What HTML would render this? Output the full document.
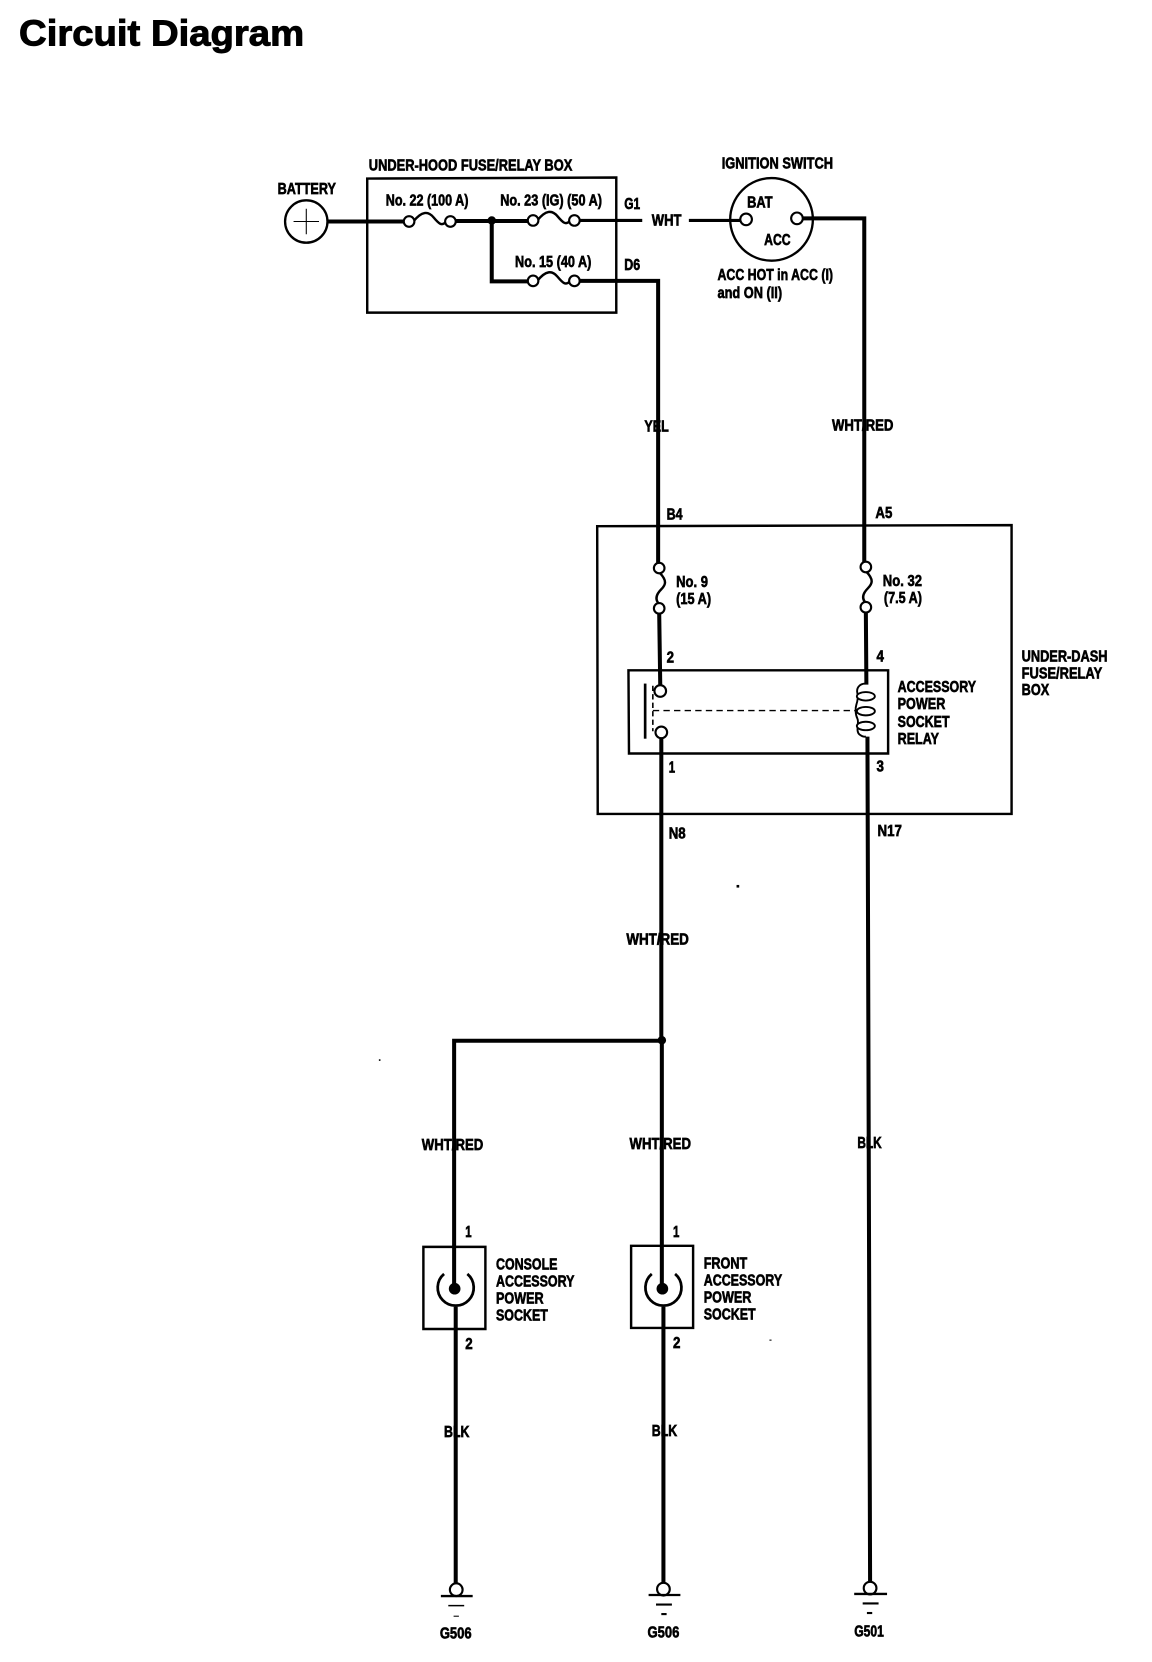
<!DOCTYPE html>
<html><head><meta charset="utf-8"><title>Circuit Diagram</title>
<style>
html,body{margin:0;padding:0;background:#fff;width:1152px;height:1662px;overflow:hidden}
svg{display:block}
text{font-family:"Liberation Sans",sans-serif;font-weight:bold;font-size:14.5px;fill:#000;stroke:#000;stroke-width:.6}
.w{fill:none;stroke:#000;stroke-width:3.8;stroke-linejoin:miter}
.t{fill:none;stroke:#000;stroke-width:2.3}
.c{fill:#fff;stroke:#000;stroke-width:2}
</style></head><body>
<svg xmlns="http://www.w3.org/2000/svg" width="1152" height="1662" viewBox="0 0 1087 1568.2">
<text x="18" y="43" textLength="269" lengthAdjust="spacingAndGlyphs" style="font-size:34px;stroke-width:.9">Circuit Diagram</text>

<!-- boxes -->
<path class="t" d="M346.5 168.5L581.5 167.5V295H346.5Z"/>
<path class="t" d="M563.5 496.5L954.5 495.5V768H564Z"/>
<path class="t" d="M593 632.5H838V711H593.5Z"/>
<path class="t" d="M399.5 1176.5H458V1254H399.5Z"/>
<path class="t" d="M595.5 1175.5H654V1253H595.5Z"/>

<!-- top wires -->
<circle cx="289" cy="209" r="20" fill="#fff" stroke="#000" stroke-width="2.2"/>
<path d="M277 209H301M289 197V221" stroke="#000" stroke-width="1" fill="none"/>
<path class="w" d="M309 209H381M429 208.5H498"/>
<path class="w" style="stroke-width:3" d="M546 208H606M650 208H700"/>
<path class="w" d="M464 208V265.500H498M546 265H621V531"/>
<path class="w" d="M757 206H815.500V531"/>
<circle cx="464" cy="208" r="4"/>

<!-- horizontal fuses -->
<path class="t" d="M390 209C398 199 404 199 409 205S417 214 421 209"/>
<path class="t" d="M507 208C515 198 521 198 526 204S534 213 538 208"/>
<path class="t" d="M507 265C515 255 521 255 526 261S534 270 538 265"/>
<circle class="c" cx="386" cy="209" r="5"/><circle class="c" cx="425" cy="209" r="5"/>
<circle class="c" cx="503" cy="208" r="5"/><circle class="c" cx="542" cy="208" r="5"/>
<circle class="c" cx="503" cy="265" r="5"/><circle class="c" cx="542" cy="265" r="5"/>

<!-- ignition -->
<circle cx="728" cy="207" r="39" fill="none" stroke="#000" stroke-width="2.2"/>
<circle class="c" cx="704" cy="207" r="5.500"/><circle class="c" cx="752" cy="206" r="5.500"/>

<!-- fuses 9 and 32 -->
<path class="t" d="M622 540C630 548 628 552 624 556S617 565 622 570"/>
<path class="t" d="M817 539C825 547 823 551 819 555S812 564 817 569"/>
<circle class="c" cx="622" cy="536" r="5"/><circle class="c" cx="622" cy="574" r="5"/>
<circle class="c" cx="817" cy="535" r="5"/><circle class="c" cx="817" cy="573" r="5"/>

<!-- vertical wires -->
<path class="w" d="M622 578L623 647M624 696V981"/>
<path class="w" d="M817 577.500L817.500 646M818.500 695L821 1495"/>
<path class="w" d="M624.500 982H428.500V1216"/>
<path class="w" d="M624.500 981V1216"/>
<circle cx="624.500" cy="981.500" r="4"/>
<path class="w" d="M430 1233V1495"/>
<path class="w" d="M626 1233V1495"/>

<!-- relay innards -->
<rect x="607.500" y="645" width="2.500" height="52"/>
<circle class="c" cx="623" cy="652" r="5.500"/><circle class="c" cx="624" cy="691" r="5.500"/>
<path d="M616 647V690" stroke="#000" stroke-width="1.500" stroke-dasharray="5 3" fill="none"/>
<path d="M616 670.500H808" stroke="#000" stroke-width="1.300" stroke-dasharray="6 4" fill="none"/>
<path class="t" style="stroke-width:1.800" d="M817 645C810 645 808 650 809 654S809 662 808 665S807 674 809 678S807 690 811 693 816 695 817 695"/>
<ellipse class="c" style="stroke-width:1.800" cx="817" cy="657" rx="8.500" ry="4"/>
<ellipse class="c" style="stroke-width:1.800" cx="817" cy="671" rx="8.500" ry="4"/>
<ellipse class="c" style="stroke-width:1.800" cx="817" cy="685" rx="8.500" ry="4"/>

<!-- sockets -->
<circle cx="429" cy="1216" r="5.500"/><circle cx="625" cy="1216" r="5.500"/>
<path class="t" style="stroke-width:2.600" d="M419 1202A17 17 0 1 0 441 1202"/>
<path class="t" style="stroke-width:2.600" d="M615 1202A17 17 0 1 0 637 1202"/>

<!-- grounds -->
<circle class="c" cx="430.500" cy="1500" r="6"/>
<path d="M416 1506H446" stroke="#000" stroke-width="2.200"/>
<path d="M423 1515H438" stroke="#000" stroke-width="1.400"/>
<path d="M428 1525H433" stroke="#000" stroke-width="1"/>
<circle class="c" cx="626" cy="1499.500" r="6"/>
<path d="M612 1505H642" stroke="#000" stroke-width="2.200"/>
<path d="M619 1514H634" stroke="#000" stroke-width="2"/>
<path d="M624 1523H629" stroke="#000" stroke-width="2"/>
<circle class="c" cx="821" cy="1498.500" r="6"/>
<path d="M806 1504H837" stroke="#000" stroke-width="2.200"/>
<path d="M814 1513H829" stroke="#000" stroke-width="2"/>
<path d="M818 1522H823" stroke="#000" stroke-width="2"/>

<!-- labels -->
<text x="348" y="161" textLength="192" lengthAdjust="spacingAndGlyphs">UNDER-HOOD FUSE/RELAY BOX</text>
<text x="262" y="183" textLength="55" lengthAdjust="spacingAndGlyphs">BATTERY</text>
<text x="364" y="194" textLength="78" lengthAdjust="spacingAndGlyphs">No. 22 (100 A)</text>
<text x="472" y="194" textLength="96" lengthAdjust="spacingAndGlyphs">No. 23 (IG) (50 A)</text>
<text x="589" y="197" textLength="15" lengthAdjust="spacingAndGlyphs">G1</text>
<text x="615" y="213" textLength="28" lengthAdjust="spacingAndGlyphs">WHT</text>
<text x="589" y="255" textLength="15" lengthAdjust="spacingAndGlyphs">D6</text>
<text x="486" y="252" textLength="72" lengthAdjust="spacingAndGlyphs">No. 15 (40 A)</text>
<text x="681" y="159" textLength="105" lengthAdjust="spacingAndGlyphs">IGNITION SWITCH</text>
<text x="705" y="196" textLength="24" lengthAdjust="spacingAndGlyphs">BAT</text>
<text x="721" y="231" textLength="25" lengthAdjust="spacingAndGlyphs">ACC</text>
<text x="677" y="264" textLength="109" lengthAdjust="spacingAndGlyphs">ACC HOT in ACC (I)</text>
<text x="677" y="281" textLength="61" lengthAdjust="spacingAndGlyphs">and ON (II)</text>

<text x="608" y="407" textLength="23" lengthAdjust="spacingAndGlyphs">YEL</text>
<text x="785" y="406" textLength="58" lengthAdjust="spacingAndGlyphs">WHT/RED</text>
<text x="629" y="490" textLength="15" lengthAdjust="spacingAndGlyphs">B4</text>
<text x="826" y="489" textLength="16" lengthAdjust="spacingAndGlyphs">A5</text>
<text x="638" y="554" textLength="30" lengthAdjust="spacingAndGlyphs">No. 9</text>
<text x="638" y="570" textLength="33" lengthAdjust="spacingAndGlyphs">(15 A)</text>
<text x="833" y="553" textLength="37" lengthAdjust="spacingAndGlyphs">No. 32</text>
<text x="834" y="569" textLength="36" lengthAdjust="spacingAndGlyphs">(7.5 A)</text>
<text x="629" y="625" textLength="7" lengthAdjust="spacingAndGlyphs">2</text>
<text x="827" y="624" textLength="7" lengthAdjust="spacingAndGlyphs">4</text>
<text x="847" y="653" textLength="74" lengthAdjust="spacingAndGlyphs">ACCESSORY</text>
<text x="847" y="669" textLength="45" lengthAdjust="spacingAndGlyphs">POWER</text>
<text x="847" y="686" textLength="49" lengthAdjust="spacingAndGlyphs">SOCKET</text>
<text x="847" y="702" textLength="39" lengthAdjust="spacingAndGlyphs">RELAY</text>
<text x="631" y="729" textLength="6" lengthAdjust="spacingAndGlyphs">1</text>
<text x="827" y="728" textLength="7" lengthAdjust="spacingAndGlyphs">3</text>
<text x="631" y="791" textLength="16" lengthAdjust="spacingAndGlyphs">N8</text>
<text x="828" y="789" textLength="23" lengthAdjust="spacingAndGlyphs">N17</text>
<text x="964" y="624" textLength="81" lengthAdjust="spacingAndGlyphs">UNDER-DASH</text>
<text x="964" y="640" textLength="76" lengthAdjust="spacingAndGlyphs">FUSE/RELAY</text>
<text x="964" y="656" textLength="26" lengthAdjust="spacingAndGlyphs">BOX</text>

<text x="591" y="891" textLength="59" lengthAdjust="spacingAndGlyphs">WHT/RED</text>
<text x="398" y="1085" textLength="58" lengthAdjust="spacingAndGlyphs">WHT/RED</text>
<text x="594" y="1084" textLength="58" lengthAdjust="spacingAndGlyphs">WHT/RED</text>
<text x="809" y="1083" textLength="23" lengthAdjust="spacingAndGlyphs">BLK</text>

<text x="439" y="1167" textLength="6" lengthAdjust="spacingAndGlyphs">1</text>
<text x="635" y="1167" textLength="6" lengthAdjust="spacingAndGlyphs">1</text>
<text x="439" y="1273" textLength="7" lengthAdjust="spacingAndGlyphs">2</text>
<text x="635" y="1272" textLength="7" lengthAdjust="spacingAndGlyphs">2</text>
<text x="468" y="1198" textLength="58" lengthAdjust="spacingAndGlyphs">CONSOLE</text>
<text x="468" y="1214" textLength="74" lengthAdjust="spacingAndGlyphs">ACCESSORY</text>
<text x="468" y="1230" textLength="45" lengthAdjust="spacingAndGlyphs">POWER</text>
<text x="468" y="1246" textLength="49" lengthAdjust="spacingAndGlyphs">SOCKET</text>
<text x="664" y="1197" textLength="41" lengthAdjust="spacingAndGlyphs">FRONT</text>
<text x="664" y="1213" textLength="74" lengthAdjust="spacingAndGlyphs">ACCESSORY</text>
<text x="664" y="1229" textLength="45" lengthAdjust="spacingAndGlyphs">POWER</text>
<text x="664" y="1245" textLength="49" lengthAdjust="spacingAndGlyphs">SOCKET</text>

<text x="419" y="1356" textLength="24" lengthAdjust="spacingAndGlyphs">BLK</text>
<text x="615" y="1355" textLength="24" lengthAdjust="spacingAndGlyphs">BLK</text>
<text x="415" y="1546" textLength="30" lengthAdjust="spacingAndGlyphs">G506</text>
<text x="611" y="1545" textLength="30" lengthAdjust="spacingAndGlyphs">G506</text>
<text x="806" y="1544" textLength="28" lengthAdjust="spacingAndGlyphs">G501</text>

<rect x="695" y="835" width="2.500" height="2.500"/>
<rect x="357.500" y="999.500" width="1.500" height="1.500"/>
<rect x="726" y="1264" width="2" height="1"/>
</svg>
</body></html>
